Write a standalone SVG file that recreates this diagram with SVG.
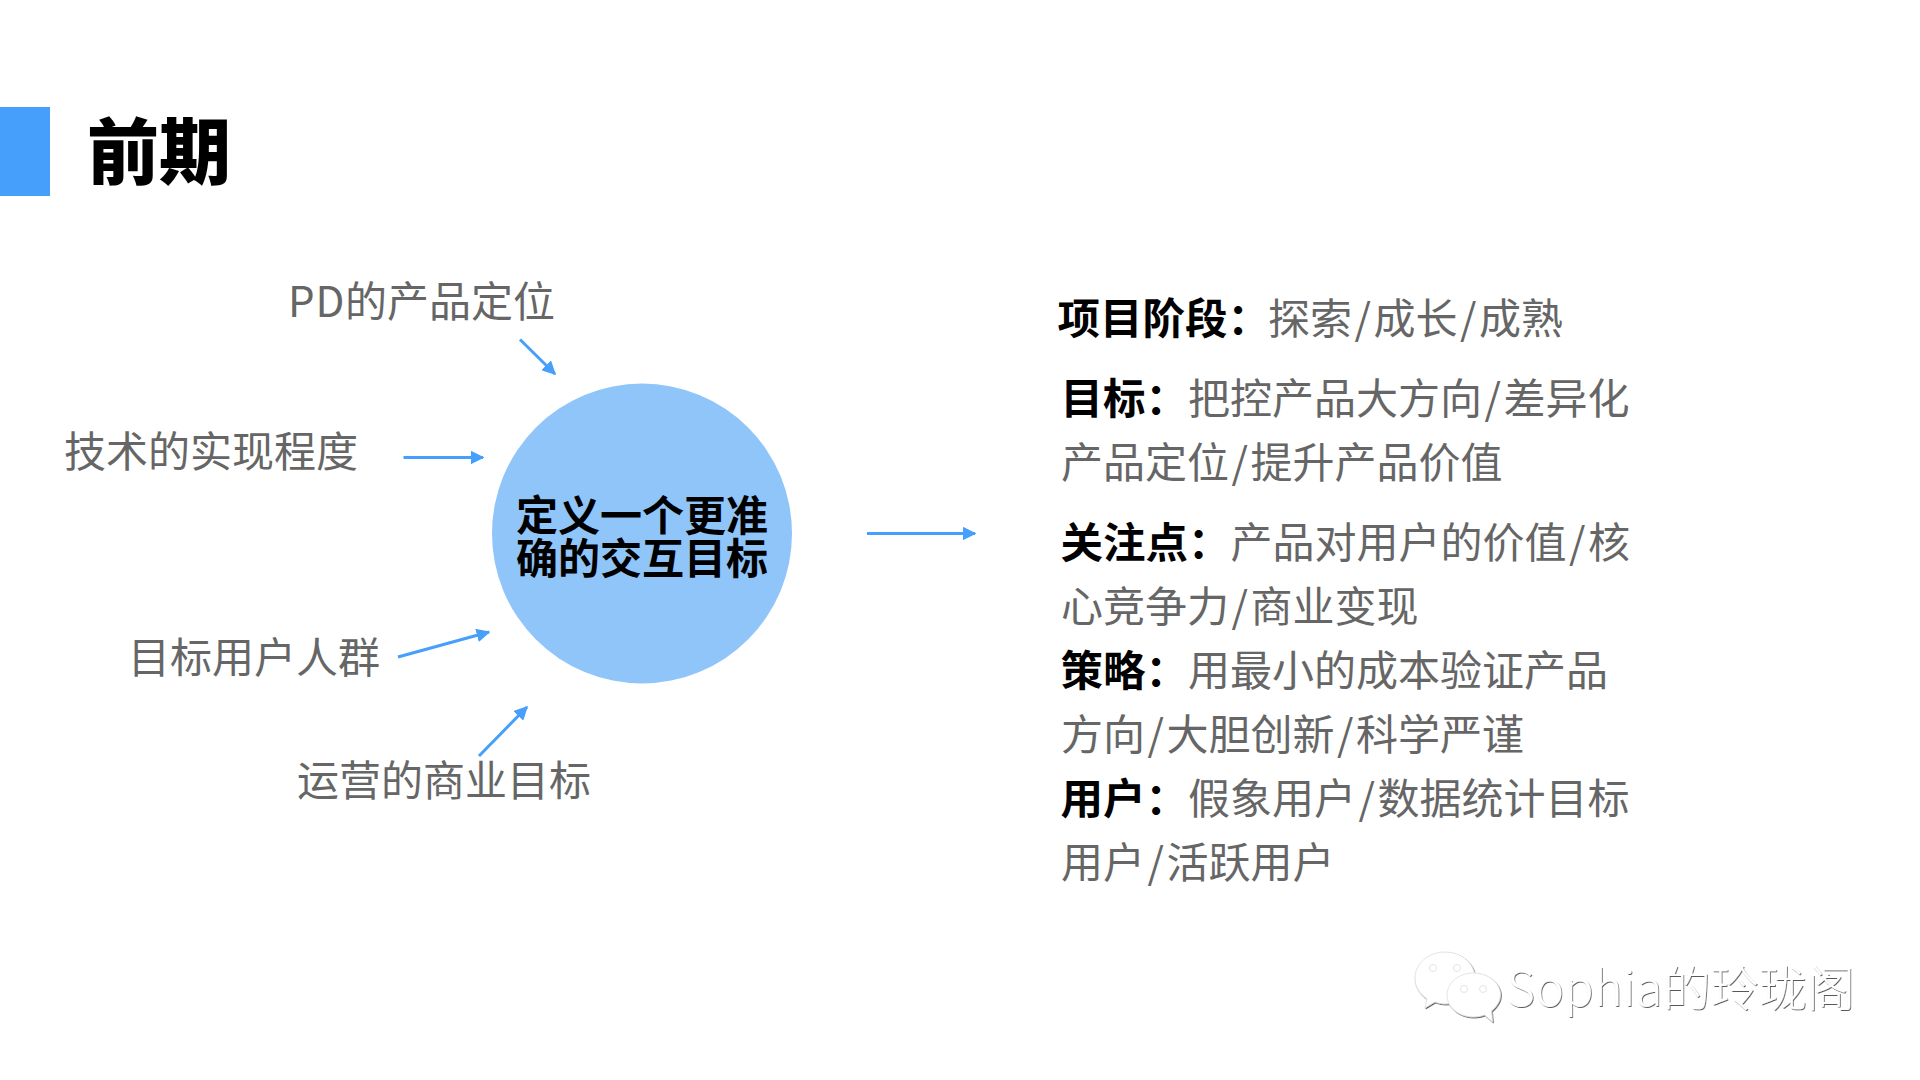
<svg xmlns="http://www.w3.org/2000/svg" width="1920" height="1080" viewBox="0 0 1920 1080">
<style>
text{font-family:"Noto Sans CJK SC","Noto Sans",sans-serif}
.g{fill:#666;font-size:42px;font-weight:400}
.b{fill:#000;font-size:42.5px;font-weight:700}
.c{fill:#000;font-size:42px;font-weight:700;text-anchor:middle}
.a{stroke:#459ffb;stroke-width:3;fill:none;marker-end:url(#ah)}
.w{fill:#fff;stroke:#ddd;stroke-width:0.8}
</style>
<defs>
<marker id="ah" viewBox="0 0 10 10" refX="9" refY="5" markerWidth="4.6" markerHeight="4.6" orient="auto"><path d="M0 0L10 5L0 10z" fill="#459ffb"/></marker>
<filter id="emb" x="-5%" y="-20%" width="110%" height="140%"><feDropShadow dx="0.8" dy="1" stdDeviation="0.5" flood-color="#444" flood-opacity="0.9"/></filter>
</defs>
<rect width="1920" height="1080" fill="#fff"/>
<g id="title"><rect x="0" y="107" width="50" height="89" fill="#459ffb"/><text x="87" y="178" font-size="72" font-weight="900" fill="#000">前期</text></g>
<g id="connectors">
<path class="a" d="M520 339.5L555 374"/>
<path class="a" d="M403.500 457.500H483"/>
<path class="a" d="M398 657L489 632"/>
<path class="a" d="M479 756L527 707"/>
<path class="a" d="M867 533.500H975"/>
</g>
<g id="center"><circle cx="642" cy="533.500" r="150" fill="#90c5fa"/><text class="c" x="642" y="530.500">定义一个更准</text><text class="c" x="642" y="573.500">确的交互目标</text></g>
<g id="n1"><text class="g" x="288" y="317"><tspan letter-spacing="0.8">PD</tspan><tspan>的产品定位</tspan></text></g>
<g id="n2"><text class="g" x="64" y="467">技术的实现程度</text></g>
<g id="n3"><text class="g" x="128" y="673">目标用户人群</text></g>
<g id="n4"><text class="g" x="297" y="796">运营的商业目标</text></g>
<g id="details">
<text class="b" x="1057.500" y="333.500">项目阶段：</text><text class="g" x="1268" y="333.500">探索<tspan dx="2.500">/</tspan><tspan dx="2.500">成长</tspan><tspan dx="2.500">/</tspan><tspan dx="2.500">成熟</tspan></text>
<text class="b" x="1060.500" y="413.500">目标：</text><text class="g" x="1188" y="413.500">把控产品大方向<tspan dx="2.500">/</tspan><tspan dx="2.500">差异化</tspan></text>
<text class="g" x="1061" y="477.500">产品定位<tspan dx="2.500">/</tspan><tspan dx="2.500">提升产品价值</tspan></text>
<text class="b" x="1060.500" y="557.500">关注点：</text><text class="g" x="1230.500" y="557.500">产品对用户的价值<tspan dx="2.500">/</tspan><tspan dx="2.500">核</tspan></text>
<text class="g" x="1061" y="621.500">心竞争力<tspan dx="2.500">/</tspan><tspan dx="2.500">商业变现</tspan></text>
<text class="b" x="1060.500" y="685.500">策略：</text><text class="g" x="1188" y="685.500">用最小的成本验证产品</text>
<text class="g" x="1061" y="749.500">方向<tspan dx="2.500">/</tspan><tspan dx="2.500">大胆创新</tspan><tspan dx="2.500">/</tspan><tspan dx="2.500">科学严谨</tspan></text>
<text class="b" x="1060.500" y="814">用户：</text><text class="g" x="1188" y="814">假象用户<tspan dx="2.500">/</tspan><tspan dx="2.500">数据统计目标</tspan></text>
<text class="g" x="1061" y="878">用户<tspan dx="2.500">/</tspan><tspan dx="2.500">活跃用户</tspan></text>
</g>
<g id="watermark" filter="url(#emb)">
<path class="w" d="M1445 952c-17 0-30 12-30 26 0 9 5 16 12 21l-2 9 10-6c3 1 7 2 10 2 17 0 30-12 30-26s-13-26-30-26z"/>
<circle class="w" cx="1433" cy="968" r="3.500"/><circle class="w" cx="1457" cy="968" r="3.500"/>
<path class="w" d="M1473.500 973c-15 0-26.500 10-26.500 22s11.500 22 26.500 22c4 0 9-1 11-2l8 7-1-11c5-4 9-10 9-16 0-12-12-22-27-22z"/>
<circle class="w" cx="1464" cy="989" r="3.500"/><circle class="w" cx="1483" cy="989" r="3.500"/>
<text x="1507" y="1006" font-size="48" font-weight="300" fill="#fff"><tspan letter-spacing="0.6">Sophia</tspan><tspan>的玲珑阁</tspan></text>
</g>
</svg>
